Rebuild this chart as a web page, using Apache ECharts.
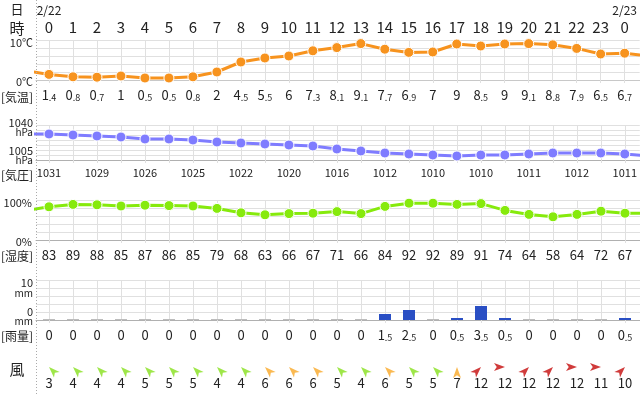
<!DOCTYPE html>
<html><head><meta charset="utf-8">
<script src="https://cdn.jsdelivr.net/npm/echarts@6/dist/echarts.min.js"></script>
<style>html,body{margin:0;padding:0;background:#fff}#c{width:640px;height:395px}</style>
</head><body><div id="c"></div>
<script>
// ---- data ----
const hours = ['0','1','2','3','4','5','6','7','8','9','10','11','12','13','14','15','16','17','18','19','20','21','22','23','0'];
const dates = ['2/22', '2/23'];
const temps = [1.4,0.8,0.7,1,0.5,0.5,0.8,2,4.5,5.5,6,7.3,8.1,9.1,7.7,6.9,7,9,8.5,9,9.1,8.8,7.9,6.5,6.7];
const tempEdges = [2.4, 6.0];
const pressures = [1031,1030,1029,1028,1026,1026,1025,1023,1022,1021,1020,1019,1016,1014,1012,1011,1010,1009,1010,1010,1011,1012,1012,1012,1011];
const pressureEdges = [1031, 1009];
const humidity = [83,89,88,85,87,86,85,79,68,63,66,67,71,66,84,92,92,89,91,74,64,58,64,72,67];
const humidityEdges = [73, 67];
const rain = [0,0,0,0,0,0,0,0,0,0,0,0,0,0,1.5,2.5,0,0.5,3.5,0.5,0,0,0,0,0.5];
const windSpeed = [3,4,4,4,5,5,5,4,4,6,6,6,5,4,6,5,5,7,12,12,12,12,12,11,10];
const windDir = ['南東','南東','南東','南東','南東','南東','南東','南東','南東','南東','南東','南東','南東','南東','南東','南東','南東','南','南西','西','南西','南西','西','西','南西'];
const rowHeads = ['日','時','[気温]','[気圧]','[湿度]','[雨量]','風'];
const tempTicks = [0, 10];
const pressTicks = [1005, 1040];
const humTicks = [0, 100];
const rainTicks = [0, 10];

// ---- styling helpers ----
const FONT = "'Noto Sans CJK JP', 'Noto Sans', sans-serif";
const TXT = '#222';
const GRIDC = '#e0e0e0';
const XMIN = -13 / 24, XMAX = 24 + 15 / 24;
const cols = hours.map((_, i) => i);
const dirRot = { '南': 0, '南東': 45, '東': 90, '南西': -45, '西': -90, '北': 180 };
function windColor(s) { return s >= 10 ? '#c40a0a' : (s >= 6 ? '#f9a825' : '#86e01c'); }
function dec(v) {
  const s = String(v); const p = s.split('.');
  return p.length > 1 ? '{i|' + p[0] + '}{d|.' + p[1] + '}' : '{i|' + p[0] + '}';
}
const decRich = {
  i: { fontSize: 13, color: TXT, fontFamily: FONT, verticalAlign: 'bottom' },
  d: { fontSize: 9, color: TXT, fontFamily: FONT, verticalAlign: 'bottom' }
};
function xAxis(gridIndex, opts) {
  return Object.assign({
    type: 'value', gridIndex, min: XMIN, max: XMAX,
    axisLine: { show: true, lineStyle: { color: '#b0b0b0', width: 1 } },
    axisTick: { show: true, customValues: cols, length: 3, lineStyle: { color: GRIDC } },
    splitLine: { show: true, lineStyle: { color: GRIDC } },
    axisLabel: { show: false }
  }, opts);
}
function rowLabel(fmt, margin, extra) {
  return Object.assign({ show: true, customValues: cols, formatter: fmt, margin, fontSize: 13, color: TXT, fontFamily: FONT }, extra || {});
}
function unitLabel(top, bottom, unit, shiftTop, shiftBottom) {
  return {
    show: true, customValues: [bottom, top], margin: 3, align: 'right',
    formatter: v => v === top
      ? '{s1| }\n{n|' + v + '}\n{u|' + unit + '}'
      : '{n|' + v + '}\n{u|' + unit + '}\n{s2| }',
    rich: {
      n: { fontSize: 11, lineHeight: 10, color: TXT, fontFamily: FONT, align: 'right' },
      u: { fontSize: 10, lineHeight: 10, color: TXT, fontFamily: FONT, align: 'right' },
      s1: { fontSize: 1, lineHeight: shiftTop },
      s2: { fontSize: 1, lineHeight: shiftBottom }
    }
  };
}
function singleLabel(ticks, unit, margin, shiftTop, shiftBottom) {
  return {
    show: true, customValues: ticks, margin, align: 'right',
    formatter: v => v === ticks[1] ? '{s1| }\n{n|' + v + unit + '}' : '{s2| }\n{n|' + v + unit + '}',
    rich: {
      n: { fontSize: 11, lineHeight: 12, color: TXT, fontFamily: FONT, align: 'right' },
      s1: { fontSize: 1, lineHeight: shiftTop },
      s2: { fontSize: 1, lineHeight: shiftBottom }
    }
  };
}
function yBase(gridIndex, min, max, interval) {
  return {
    type: 'value', gridIndex, min, max, interval,
    axisLine: { show: false }, axisTick: { show: false },
    splitLine: { show: true, lineStyle: { color: GRIDC } }
  };
}
function edgeSeries(arr, edges) {
  return [[-1, edges[0]]].concat(arr.map((v, i) => [i, v])).concat([[25, edges[1]]]);
}

const chart = echarts.init(document.getElementById('c'), null, { renderer: 'canvas' });
const option = {
  animation: false,
  textStyle: { fontFamily: FONT },
  grid: [
    { left: 36, right: 0, top: 40, height: 40 },
    { left: 36, right: 0, top: 125, height: 35 },
    { left: 36, right: 0, top: 200, height: 40 },
    { left: 36, right: 0, top: 280, height: 40 },
    { left: 36, right: 0, top: 359, height: 16 }
  ],
  xAxis: [
    xAxis(0, { axisLine: { show: true, lineStyle: { color: '#c8c8c8' } }, axisLabel: rowLabel(v => dec(temps[v]), 9, { rich: decRich }) }),
    xAxis(0, { position: 'top', axisLine: { show: false }, axisTick: { show: false }, splitLine: { show: false },
      axisLabel: rowLabel(v => hours[v], 5, { fontSize: 15 }) }),
    xAxis(0, { position: 'top', axisLine: { show: false }, axisTick: { show: false }, splitLine: { show: false },
      axisLabel: { show: true, customValues: [0, 24], formatter: v => dates[v === 0 ? 0 : 1], margin: 24, fontSize: 12, color: TXT, fontFamily: FONT } }),
    xAxis(1, { axisLabel: rowLabel(v => (v % 2 === 0 ? String(pressures[v]) : ''), 7, { fontSize: 11 }) }),
    xAxis(2, { axisLabel: rowLabel(v => String(humidity[v]), 9) }),
    xAxis(3, { axisLabel: rowLabel(v => dec(rain[v]), 9, { rich: decRich }) }),
    xAxis(4, { axisLine: { show: false }, axisTick: { show: false }, splitLine: { show: false },
      axisLabel: rowLabel(v => String(windSpeed[v]), 2) })
  ],
  yAxis: [
    Object.assign(yBase(0, 0, 10, 2), { axisLabel: singleLabel(tempTicks, '℃', 3, 6, 4) }),
    Object.assign(yBase(1, 1005, 1040, 5), { axisLabel: unitLabel(pressTicks[1], pressTicks[0], 'hPa', 5, 9) }),
    Object.assign(yBase(2, 0, 100, 20), { axisLabel: singleLabel(humTicks, '%', 4, 6, 4) }),
    Object.assign(yBase(3, 0, 10, 2), { axisLabel: unitLabel(rainTicks[1], rainTicks[0], 'mm', 16, 7) }),
    { type: 'value', gridIndex: 4, min: -1, max: 1, show: false }
  ],
  series: [
    { type: 'line', xAxisIndex: 0, yAxisIndex: 0, data: edgeSeries(temps, tempEdges), clip: true,
      lineStyle: { color: '#f7931e', width: 3 }, symbol: 'circle', symbolSize: 10,
      itemStyle: { color: '#f7931e', borderColor: '#fff', borderWidth: 1 } },
    { type: 'line', xAxisIndex: 3, yAxisIndex: 1, data: edgeSeries(pressures, pressureEdges), clip: true,
      lineStyle: { color: '#7f7cff', width: 3 }, symbol: 'circle', symbolSize: 10,
      itemStyle: { color: '#7f7cff', borderColor: '#fff', borderWidth: 1 } },
    { type: 'line', xAxisIndex: 4, yAxisIndex: 2, data: edgeSeries(humidity, humidityEdges), clip: true,
      lineStyle: { color: '#86ea0c', width: 3 }, symbol: 'circle', symbolSize: 10,
      itemStyle: { color: '#86ea0c', borderColor: '#fff', borderWidth: 1 } },
    { type: 'bar', xAxisIndex: 5, yAxisIndex: 3, barWidth: 12, barMinHeight: 1,
      data: rain.map((v, i) => ({ value: [i, v], itemStyle: { color: v > 0 ? '#2a4fc4' : '#bdbdbd' } })) },
    { type: 'scatter', xAxisIndex: 6, yAxisIndex: 4, symbol: 'arrow', symbolSize: [6, 11],
      data: windSpeed.map((s, i) => ({ value: [i, 0], symbolRotate: dirRot[windDir[i]], itemStyle: { color: windColor(s) } })) }
  ],
  graphic: [
    { type: 'line', shape: { x1: 36.5, y1: 0, x2: 36.5, y2: 395 }, style: { stroke: '#aaa', lineWidth: 1, lineDash: [1, 2] }, z: 100 },
    ...[[0, 9, 13], [1, 28, 15], [2, 97, 12], [3, 175, 12], [4, 256, 12], [5, 336, 12], [6, 369, 15]].map(([k, y, fs]) => ({
      type: 'text', x: 17, y: y,
      style: { text: rowHeads[k], fontSize: fs, fontFamily: FONT, fill: TXT, textAlign: 'center', textVerticalAlign: 'middle' }
    }))
  ]
};
chart.setOption(option);
</script>
</body></html>
